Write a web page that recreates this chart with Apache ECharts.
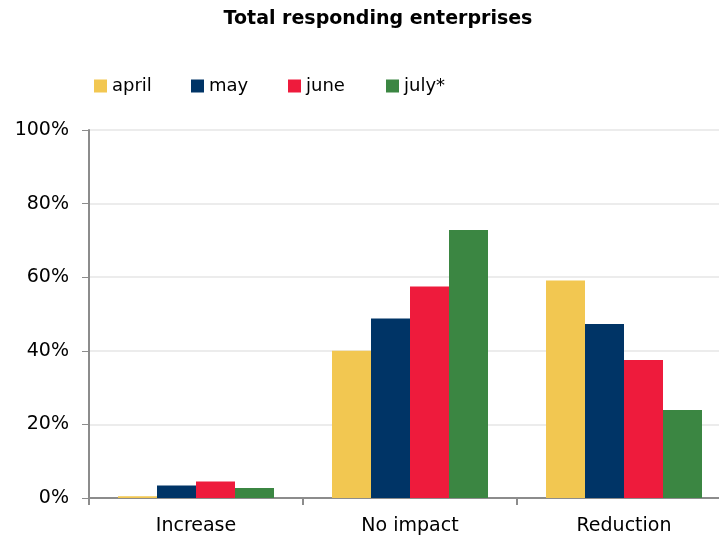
<!DOCTYPE html>
<html><head><meta charset="utf-8">
<script src="https://cdn.jsdelivr.net/npm/echarts@6/dist/echarts.min.js"></script>
<style>html,body{margin:0;padding:0;background:#fff;overflow:hidden;width:719px;height:537px;}#c{width:731px;height:537px;}</style>
</head><body><div id="c"></div>
<script>
const categories = ['Increase', 'No impact', 'Reduction'];
const seriesNames = ['april', 'may', 'june', 'july*'];
const april = [0.5, 40.0, 59.1];
const may = [3.4, 48.8, 47.3];
const june = [4.5, 57.5, 37.5];
const july = [2.7, 72.8, 23.9];
const colors = ['#F2C751', '#003466', '#EE1B3C', '#3B8642'];
const values = [april, may, june, july];
const legendLefts = [94, 191, 288, 386];

const chart = echarts.init(document.getElementById('c'));
const font = 'DejaVu Sans, Verdana, sans-serif';
chart.setOption({
  animation: false,
  title: {
    text: 'Total responding enterprises',
    left: 373, top: 5, textAlign: 'center',
    textStyle: {fontFamily: font, fontSize: 19, fontWeight: 'bold', color: '#000'}
  },
  legend: seriesNames.map((n, i) => ({
    left: legendLefts[i], top: 77, padding: 0,
    itemWidth: 13, itemHeight: 13, itemGap: 0, itemTextGap: 3,
    icon: 'rect',
    textStyle: {fontFamily: font, fontSize: 18, color: '#000'},
    data: [n]
  })),
  grid: {left: 89, right: 0, top: 130, bottom: 39, containLabel: false},
  xAxis: {
    type: 'category', data: categories,
    axisLine: {lineStyle: {color: '#8c8c8c', width: 2}},
    axisTick: {show: true, length: 7, lineStyle: {color: '#8c8c8c', width: 2}},
    axisLabel: {fontFamily: font, fontSize: 19, color: '#000', margin: 19}
  },
  yAxis: {
    type: 'value', min: 0, max: 100, interval: 20,
    axisLine: {show: true, lineStyle: {color: '#8c8c8c', width: 2}},
    axisTick: {show: true, length: 7, lineStyle: {color: '#8c8c8c', width: 1}},
    splitLine: {lineStyle: {color: '#ececec', width: 2}},
    axisLabel: {fontFamily: font, fontSize: 19, color: '#000', margin: 20, formatter: '{value}%'}
  },
  series: seriesNames.map((n, i) => ({
    name: n, type: 'bar', data: values[i], barWidth: 39, barGap: '0%',
    itemStyle: {color: colors[i]}
  }))
});
</script></body></html>
